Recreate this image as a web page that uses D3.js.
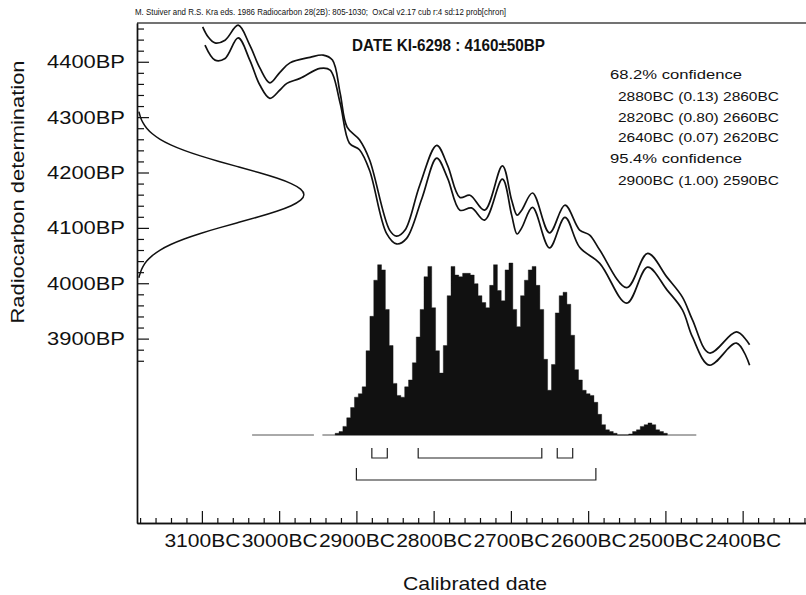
<!DOCTYPE html>
<html><head><meta charset="utf-8">
<script src="https://cdn.jsdelivr.net/npm/d3@7"></script>
<style>
body{margin:0;background:#fff}
svg{display:block}
text{font-family:"Liberation Sans",Arial,sans-serif;fill:#111}
</style>
</head><body>
<svg id="c" width="806" height="595"></svg>
<script>
// ---------- DATA ----------
const headerText = "M. Stuiver and R.S. Kra eds. 1986 Radiocarbon 28(2B): 805-1030;  OxCal v2.17 cub r:4 sd:12 prob[chron]";
const titleText = "DATE KI-6298 : 4160\u00B150BP";
const xTitle = "Calibrated date";
const yTitle = "Radiocarbon determination";
const xTickYears = [3100, 3000, 2900, 2800, 2700, 2600, 2500, 2400];
const yTickBP = [4400, 4300, 4200, 4100, 4000, 3900];

// calibration curve (years BC, BP) – upper and lower 1-sigma lines
const upperYears = [3099,3092,3083,3070,3053,3038,3025,3012,2999,2986,2960,2943,2931,2921,2912,2896,2883,2857,2848,2837,2818,2796,2782,2766,2753,2734,2711,2699,2692,2686,2672,2650,2630,2611,2598,2585,2550,2523,2498,2478,2465,2443,2408,2391];
const upperBP    = [4463,4445,4434,4439,4466,4430,4389,4362,4381,4398,4408,4412,4403,4343,4282,4259,4223,4096,4085,4096,4177,4249,4213,4155,4159,4132,4212,4150,4123,4132,4163,4091,4141,4096,4087,4060,3992,4054,4011,3975,3934,3874,3912,3889];
const lowerYears = [3096,3083,3070,3053,3038,3025,3012,2999,2990,2973,2947,2934,2921,2909,2896,2883,2861,2848,2835,2815,2796,2782,2766,2751,2734,2711,2699,2692,2686,2672,2650,2630,2611,2585,2550,2523,2498,2478,2465,2443,2408,2391];
const lowerBP    = [4430,4403,4406,4443,4403,4358,4334,4349,4361,4370,4388,4385,4325,4253,4241,4204,4090,4071,4081,4154,4226,4190,4132,4136,4114,4188,4123,4089,4100,4137,4064,4119,4065,4036,3964,4029,3988,3952,3903,3852,3892,3852];

// measured date distribution 4160±50 BP (relative density)
const gaussBP   = [4010,4020,4030,4040,4050,4060,4070,4080,4090,4100,4110,4120,4130,4140,4150,4160,4170,4180,4190,4200,4210,4220,4230,4240,4250,4260,4270,4280,4290,4300,4310];
const gaussDens = [0.011,0.020,0.034,0.056,0.089,0.135,0.198,0.278,0.375,0.487,0.607,0.726,0.835,0.923,0.980,1.000,0.980,0.923,0.835,0.726,0.607,0.487,0.375,0.278,0.198,0.135,0.089,0.056,0.034,0.020,0.011];

// calibrated probability distribution (5-year bins, years BC, relative %)
const histYears = [2925,2920,2915,2910,2905,2900,2895,2890,2885,2880,2875,2870,2865,2860,2855,2850,2845,2840,2835,2830,2825,2820,2815,2810,2805,2800,2795,2790,2785,2780,2775,2770,2765,2760,2755,2750,2745,2740,2735,2730,2725,2720,2715,2710,2705,2700,2695,2690,2685,2680,2675,2670,2665,2660,2655,2650,2645,2640,2635,2630,2625,2620,2615,2610,2605,2600,2595,2590,2585,2580,2575,2570,2565,2560,2555,2550,2545,2540,2535,2530,2525,2520,2515,2510,2505,2500];
const histProb  = [1,2,5,10,16,22,24,28,49,69,90,99,96,73,52,30,23,22,28,32,42,57,73,92,98,74,49,36,52,81,98,93,92,94,94,93,88,81,77,74,87,99,84,78,96,100,73,63,81,90,96,98,87,73,44,26,41,71,81,83,76,58,38,32,26,24,23,19,12,6,3,2,1,0,0,0,0.6,2,3,5,6,7,6,3,2,1];
const histBaseSegments = [[3035, 2955], [2944, 2460]];

// confidence ranges
const conf68 = [[2880, "0.13", 2860], [2820, "0.80", 2660], [2640, "0.07", 2620]];
const conf95 = [[2900, "1.00", 2590]];

// ---------- DRAW ----------
const svg = d3.select("#c");
const ink = "#111";

const x = d3.scaleLinear().domain([3184, 2318]).range([137, 806]);
const y = d3.scaleLinear().domain([4470, 3567]).range([23, 523]);
const hY = d3.scaleLinear().domain([0, 100]).range([435, 263]);
const gX = d3.scaleLinear().domain([0, 1]).range([137, 305]);

// header
svg.append("text").attr("x", 135).attr("y", 15).attr("font-size", 8.6)
  .style("white-space", "pre").attr("textLength", 371).attr("lengthAdjust", "spacingAndGlyphs")
  .attr("fill", "#222").text(headerText);

// top frame
svg.append("line").attr("x1", 137).attr("x2", 806).attr("y1", 23).attr("y2", 23)
  .attr("stroke", "#444").attr("stroke-width", 1.3);

// axes
const xMinor = d3.range(3180, 2318, -20).filter(v => v % 100 !== 0);
const yMinor = d3.range(3860, 4461, 20).filter(v => v % 100 !== 0);

const axisFont = "Liberation Sans, Arial, sans-serif";
const gxMinor = svg.append("g").attr("transform", "translate(0,523)")
  .call(d3.axisBottom(x).tickValues(xMinor).tickSize(-5).tickSizeOuter(0).tickFormat(""));
const gx = svg.append("g").attr("transform", "translate(0,523)")
  .call(d3.axisBottom(x).tickValues(xTickYears).tickSize(-12).tickSizeOuter(0).tickPadding(11).tickFormat(d => d + "BC"));
const gyMinor = svg.append("g").attr("transform", "translate(137,0)")
  .call(d3.axisLeft(y).tickValues(yMinor).tickSize(-7).tickSizeOuter(0).tickFormat(""));
const gy = svg.append("g").attr("transform", "translate(137,0)")
  .call(d3.axisLeft(y).tickValues(yTickBP).tickSize(-12).tickSizeOuter(0).tickPadding(12).tickFormat(d => d + "BP"));
[gxMinor, gx, gyMinor, gy].forEach(g => {
  g.selectAll("path").attr("stroke", ink).attr("stroke-width", 1.4);
  g.selectAll("line").attr("stroke", ink).attr("stroke-width", 1.2);
});
gx.selectAll("text").attr("font-size", 19).attr("font-family", axisFont)
  .attr("fill", ink).attr("textLength", 76).attr("lengthAdjust", "spacingAndGlyphs");
gy.selectAll("text").attr("font-size", 19).attr("font-family", axisFont)
  .attr("fill", ink).attr("textLength", 78).attr("lengthAdjust", "spacingAndGlyphs");

// axis titles
svg.append("text").attr("x", 475).attr("y", 590).attr("text-anchor", "middle")
  .attr("font-size", 19).attr("textLength", 144).attr("lengthAdjust", "spacingAndGlyphs").text(xTitle);
svg.append("text").attr("transform", "translate(24,192) rotate(-90)").attr("text-anchor", "middle")
  .attr("font-size", 19).attr("textLength", 263).attr("lengthAdjust", "spacingAndGlyphs").text(yTitle);

// gaussian on y axis
const gaussLine = d3.line().x(d => gX(d[1])).y(d => y(d[0])).curve(d3.curveBasis);
svg.append("path").datum(gaussBP.map((b, i) => [b, gaussDens[i]]))
  .attr("d", gaussLine).attr("fill", "none").attr("stroke", ink).attr("stroke-width", 1.5);

// calibration curve
const calLine = d3.line().x(d => x(d[0])).y(d => y(d[1])).curve(d3.curveCatmullRom.alpha(0.5));
[[upperYears, upperBP], [lowerYears, lowerBP]].forEach(([ys, bps]) => {
  svg.append("path").datum(ys.map((v, i) => [v, bps[i]]))
    .attr("d", calLine).attr("fill", "none").attr("stroke", ink).attr("stroke-width", 1.7);
});

// histogram baseline
histBaseSegments.forEach(s => {
  svg.append("line").attr("x1", x(s[0])).attr("x2", x(s[1])).attr("y1", 435).attr("y2", 435)
    .attr("stroke", "#555").attr("stroke-width", 1);
});

// histogram as a stepped area
const stepPts = [];
histYears.forEach((v, i) => {
  stepPts.push([v + 2.5, histProb[i]]);
  stepPts.push([v - 2.5, histProb[i]]);
});
const histArea = d3.area().x(d => x(d[0])).y0(hY(0)).y1(d => hY(d[1]));
svg.append("path").datum(stepPts).attr("d", histArea).attr("fill", ink)
  .attr("stroke", ink).attr("stroke-width", 0.4);

// title
svg.append("text").attr("x", 352).attr("y", 51).attr("font-size", 17).attr("font-weight", "bold")
  .attr("textLength", 193).attr("lengthAdjust", "spacingAndGlyphs").text(titleText);

// confidence text
const confRows = [];
confRows.push({t: "68.2% confidence", h: true});
conf68.forEach(c => confRows.push({t: `${c[0]}BC (${c[1]}) ${c[2]}BC`, h: false}));
confRows.push({t: "95.4% confidence", h: true});
conf95.forEach(c => confRows.push({t: `${c[0]}BC (${c[1]}) ${c[2]}BC`, h: false}));
const confBase = [79, 101, 122, 142, 163, 185];
svg.append("g").selectAll("text").data(confRows).join("text")
  .attr("x", d => d.h ? 610 : 618)
  .attr("y", (d, i) => confBase[i])
  .attr("font-size", 12.5)
  .attr("textLength", d => d.h ? 132 : 161)
  .attr("lengthAdjust", "spacingAndGlyphs")
  .text(d => d.t);

// confidence brackets
function bracket(c, top, bottom) {
  const p = d3.path();
  p.moveTo(x(c[0]), top); p.lineTo(x(c[0]), bottom); p.lineTo(x(c[2]), bottom); p.lineTo(x(c[2]), top);
  return p.toString();
}
conf68.forEach(c => svg.append("path").attr("d", bracket(c, 448, 458)).attr("fill", "none").attr("stroke", "#222").attr("stroke-width", 1.2));
conf95.forEach(c => svg.append("path").attr("d", bracket(c, 468, 480)).attr("fill", "none").attr("stroke", "#222").attr("stroke-width", 1.2));
</script>
</body></html>
